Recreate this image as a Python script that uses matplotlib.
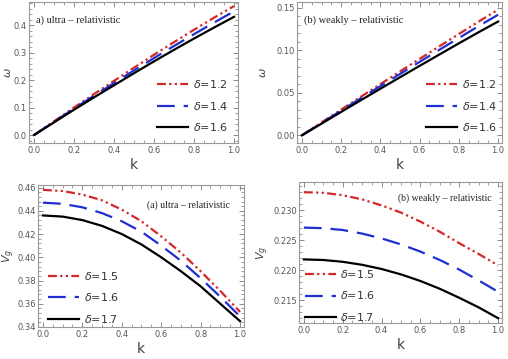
import matplotlib.pyplot as plt
from matplotlib.ticker import AutoMinorLocator

# k grid shared by all panels
k = [0.0, 0.1, 0.2, 0.3, 0.4, 0.5, 0.6, 0.7, 0.8, 0.9, 1.0]

# (a) omega, ultra-relativistic
w_ultra_12 = [0.0, 0.050, 0.100, 0.149, 0.197, 0.245, 0.292, 0.338, 0.383, 0.427, 0.469]
w_ultra_14 = [0.0, 0.048, 0.096, 0.143, 0.189, 0.235, 0.280, 0.324, 0.367, 0.409, 0.450]
w_ultra_16 = [0.0, 0.046, 0.092, 0.137, 0.181, 0.225, 0.268, 0.310, 0.351, 0.391, 0.430]

# (b) omega, weakly-relativistic
w_weak_12 = [0.0, 0.0152, 0.0303, 0.0453, 0.0603, 0.0752, 0.0900, 0.1047, 0.1193, 0.1338, 0.1480]
w_weak_14 = [0.0, 0.0146, 0.0291, 0.0436, 0.0580, 0.0723, 0.0865, 0.1006, 0.1146, 0.1285, 0.1420]
w_weak_16 = [0.0, 0.0138, 0.0276, 0.0413, 0.0549, 0.0684, 0.0818, 0.0951, 0.1083, 0.1213, 0.1340]

# (a) group velocity, ultra-relativistic
vg_ultra_15 = [0.458, 0.457, 0.454, 0.449, 0.441, 0.431, 0.418, 0.404, 0.388, 0.371, 0.353]
vg_ultra_16 = [0.447, 0.446, 0.443, 0.438, 0.431, 0.422, 0.410, 0.397, 0.382, 0.366, 0.349]
vg_ultra_17 = [0.436, 0.435, 0.432, 0.427, 0.420, 0.411, 0.400, 0.388, 0.375, 0.360, 0.345]

# (b) group velocity, weakly-relativistic
vg_weak_15 = [0.2330, 0.2329, 0.2325, 0.2318, 0.2308, 0.2296, 0.2281, 0.2264, 0.2245, 0.2227, 0.2208]
vg_weak_16 = [0.2271, 0.2270, 0.2267, 0.2261, 0.2253, 0.2243, 0.2231, 0.2217, 0.2201, 0.2183, 0.2164]
vg_weak_17 = [0.2218, 0.2217, 0.2214, 0.2209, 0.2202, 0.2193, 0.2182, 0.2169, 0.2154, 0.2138, 0.2120]

labels_w = [r'$\delta$=1.2', r'$\delta$=1.4', r'$\delta$=1.6']
labels_vg = [r'$\delta$=1.5', r'$\delta$=1.6', r'$\delta$=1.7']

plt.rcParams['mathtext.fontset'] = 'dejavusans'
grey = '#777777'

red_style = dict(color='#d62728', linestyle=(0, (4, 1.5, 1, 1.5, 1, 1.5)), lw=1.6)
blue_style = dict(color='#1f2fd0', linestyle=(0, (8, 4)), lw=1.6)
black_style = dict(color='black', linestyle='-', lw=1.6)

fig = plt.figure(figsize=(5.08, 3.59), dpi=100)
W, H = 508, 359
boxes = [(29, 2, 238, 143), (297, 2, 502, 143), (38, 185, 244, 327), (299, 182, 502, 323)]
axes = [fig.add_axes([l / W, 1 - b / H, (r - l) / W, (b - t) / H]) for l, t, r, b in boxes]
# right edge (figure px) of each y label
ylabel_right = [13, 268, 17, 271]


def style(ax, i, ylab, yticks, yfmt):
    ax.set_xlim(-0.025, 1.02)
    ax.set_xticks([0, 0.2, 0.4, 0.6, 0.8, 1.0])
    ax.set_xticklabels(['0.0', '0.2', '0.4', '0.6', '0.8', '1.0'])
    ax.set_yticks(yticks)
    ax.set_yticklabels([yfmt.format(v) for v in yticks])
    ax.xaxis.set_minor_locator(AutoMinorLocator(4))
    ax.yaxis.set_minor_locator(AutoMinorLocator(5))
    ax.tick_params(which='both', direction='in', top=True, right=True,
                   colors=grey, labelsize=6, labelcolor='#555555', pad=2)
    ax.tick_params(axis='y', pad=1.5)
    ax.tick_params(which='major', length=3.5, width=0.6)
    ax.tick_params(which='minor', length=2, width=0.5)
    for s in ax.spines.values():
        s.set_color('#999999')
        s.set_linewidth(0.8)
    ax.set_xlabel('k', fontsize=10, color='#444444', labelpad=2)
    ax.set_ylabel(ylab, fontsize=8, color='#444444')
    l, t, r, b = boxes[i]
    ax.yaxis.set_label_coords((ylabel_right[i] - l) / (r - l), 0.5)


def legend(ax, loc, anchor):
    ax.legend(loc=loc, bbox_to_anchor=anchor, frameon=False, fontsize=8,
              handlelength=2.8, handletextpad=0.4, labelspacing=0.85, labelcolor='#333333')


ax = axes[0]
ax.plot(k, w_ultra_12, label=labels_w[0], **red_style)
ax.plot(k, w_ultra_14, label=labels_w[1], **blue_style)
ax.plot(k, w_ultra_16, label=labels_w[2], **black_style)
ax.set_ylim(-0.029, 0.484)
style(ax, 0, r'$\omega$', [0.0, 0.1, 0.2, 0.3, 0.4], '{:.1f}')
ax.text(0.035, 0.85, 'a) ultra – relativistic', transform=ax.transAxes,
        family='Liberation Serif', fontsize=7.5, color='#222222')
legend(ax, 'lower right', (1.0, 0.0))

ax = axes[1]
ax.plot(k, w_weak_12, label=labels_w[0], **red_style)
ax.plot(k, w_weak_14, label=labels_w[1], **blue_style)
ax.plot(k, w_weak_16, label=labels_w[2], **black_style)
ax.set_ylim(-0.009, 0.157)
style(ax, 1, r'$\omega$', [0.0, 0.05, 0.10, 0.15], '{:.2f}')
ax.text(0.035, 0.85, '(b) weakly – relativistic', transform=ax.transAxes,
        family='Liberation Serif', fontsize=7.5, color='#222222')
legend(ax, 'lower right', (1.025, 0.0))

ax = axes[2]
ax.plot(k, vg_ultra_15, label=labels_vg[0], **red_style)
ax.plot(k, vg_ultra_16, label=labels_vg[1], **blue_style)
ax.plot(k, vg_ultra_17, label=labels_vg[2], **black_style)
ax.set_ylim(0.34, 0.4622)
style(ax, 2, r'$V_g$', [0.34, 0.36, 0.38, 0.40, 0.42, 0.44, 0.46], '{:.2f}')
ax.text(0.53, 0.84, '(a) ultra – relativistic', transform=ax.transAxes,
        family='Liberation Serif', fontsize=7, color='#222222')
legend(ax, 'lower left', (0.0, -0.055))

ax = axes[3]
ax.plot(k, vg_weak_15, label=labels_vg[0], **red_style)
ax.plot(k, vg_weak_16, label=labels_vg[1], **blue_style)
ax.plot(k, vg_weak_17, label=labels_vg[2], **black_style)
ax.set_ylim(0.2112, 0.2347)
style(ax, 3, r'$V_g$', [0.215, 0.220, 0.225, 0.230], '{:.3f}')
ax.text(0.49, 0.87, '(b) weakly – relativistic', transform=ax.transAxes,
        family='Liberation Serif', fontsize=7, color='#222222')
legend(ax, 'lower left', (-0.02, -0.07))

fig.savefig('out.png', dpi=100)
